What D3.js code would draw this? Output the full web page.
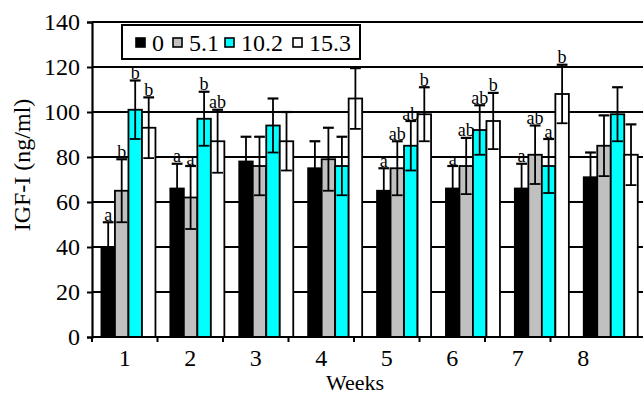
<!DOCTYPE html>
<html>
<head>
<meta charset="utf-8">
<script src="https://cdn.jsdelivr.net/npm/d3@7"></script>
<style>
  html, body { margin: 0; padding: 0; background: #fff; }
  svg { display: block; }
  text { font-family: "Liberation Serif", "Times New Roman", serif; fill: #000; }
</style>
</head>
<body>
<svg id="chart" width="643" height="394"></svg>
<script>
// ---- data ----
const weeks = ["1", "2", "3", "4", "5", "6", "7", "8"];
const doses = ["0", "5.1", "10.2", "15.3"];
const yTicks = [0, 20, 40, 60, 80, 100, 120, 140];

const dose0   = [40, 66, 78, 75, 65, 66, 66, 71];
const dose5_1 = [65, 62, 76, 79, 75, 76, 81, 85];
const dose10_2 = [101, 97, 94, 76, 85, 92, 76, 99];
const dose15_3 = [93, 87, 87, 106, 99, 96, 108, 81];

const se0   = [11, 11, 11, 12, 10, 10, 11, 11];
const se5_1 = [14, 14, 13, 14, 12, 12.5, 13, 13.5];
const se10_2 = [13, 12, 12, 13, 11, 11, 12, 12];
const se15_3 = [13.5, 14, 13, 13.5, 12, 12.5, 13, 13.5];

const letters0   = ["a", "a", "", "", "a", "a", "a", ""];
const letters5_1 = ["b", "a", "", "", "ab", "ab", "ab", ""];
const letters10_2 = ["b", "b", "", "", "ab", "ab", "a", ""];
const letters15_3 = ["b", "ab", "", "", "b", "b", "b", ""];

const colors = ["#000000", "#c0c0c0", "#00ffff", "#ffffff"];

const seriesValues = [dose0, dose5_1, dose10_2, dose15_3];
const seriesSE = [se0, se5_1, se10_2, se15_3];
const seriesLetters = [letters0, letters5_1, letters10_2, letters15_3];

const rows = [];
weeks.forEach((w, i) => {
  doses.forEach((d, j) => {
    rows.push({ week: w, dose: d, v: seriesValues[j][i], se: seriesSE[j][i], letter: seriesLetters[j][i], color: colors[j] });
  });
});

// ---- layout ----
const svg = d3.select("#chart");
const mLeft = 92, mTop = 22, mBottom = 337, mRight = 643;

const y = d3.scaleLinear().domain([0, 140]).range([mBottom, mTop]);

// bars (scanned original: bar groups spaced slightly wider than the axis labels)
const xBars = d3.scaleBand().domain(weeks).range([94, 94 + 8 * 68.9]).paddingInner(0.216).paddingOuter(0.108);
const xInner = d3.scaleBand().domain(doses).range([0, xBars.bandwidth()]);
const xAxisScale = d3.scaleBand().domain(weeks).range([mLeft, mLeft + 8 * 65.5]);

// gridlines
svg.append("g").selectAll("line").data(yTicks.filter(t => t > 0)).join("line")
  .attr("x1", mLeft).attr("x2", mRight)
  .attr("y1", d => y(d)).attr("y2", d => y(d))
  .attr("stroke", "#000").attr("stroke-width", 2);

// bars
const bw = xInner.bandwidth();
const barG = svg.append("g");
barG.selectAll("rect").data(rows).join("rect")
  .attr("x", d => xBars(d.week) + xInner(d.dose))
  .attr("y", d => y(d.v))
  .attr("width", bw)
  .attr("height", d => y(0) - y(d.v))
  .attr("fill", d => d.color)
  .attr("stroke", "#000").attr("stroke-width", 1.8);

// error bars
const capW = bw * 0.8;
const eg = svg.append("g").attr("stroke", "#000").attr("stroke-width", 1.8);
rows.forEach(d => {
  const cx = xBars(d.week) + xInner(d.dose) + bw / 2;
  const yHi = y(d.v + d.se), yLo = y(d.v - d.se);
  eg.append("line").attr("x1", cx).attr("x2", cx).attr("y1", yHi).attr("y2", yLo);
  eg.append("line").attr("x1", cx - capW / 2).attr("x2", cx + capW / 2).attr("y1", yHi).attr("y2", yHi).attr("stroke-width", 2.2);
  eg.append("line").attr("x1", cx - capW / 2).attr("x2", cx + capW / 2).attr("y1", yLo).attr("y2", yLo);
});

// significance letters
svg.append("g").selectAll("text").data(rows.filter(d => d.letter)).join("text")
  .attr("x", d => xBars(d.week) + xInner(d.dose) + bw / 2)
  .attr("y", d => y(d.v + d.se) - 1.5)
  .attr("text-anchor", "middle")
  .attr("font-size", 18)
  .text(d => d.letter);

// y axis
const yAxis = svg.append("g").attr("transform", `translate(${mLeft},0)`)
  .call(d3.axisLeft(y).tickValues(yTicks).tickSize(5).tickPadding(7));
yAxis.selectAll("text").attr("font-size", 24);
yAxis.selectAll("line").attr("stroke", "#000").attr("stroke-width", 2);
yAxis.select(".domain").attr("stroke", "#000").attr("stroke-width", 2.2);

// x axis
const xAxis = svg.append("g").attr("transform", `translate(0,${mBottom})`)
  .call(d3.axisBottom(xAxisScale).tickSize(0).tickPadding(12));
xAxis.select(".domain").remove();
xAxis.selectAll("text").attr("font-size", 24);
svg.append("line").attr("x1", mLeft).attr("x2", mRight).attr("y1", mBottom).attr("y2", mBottom)
  .attr("stroke", "#000").attr("stroke-width", 2.2);
svg.append("g").selectAll("line").data(weeks).join("line")
  .attr("x1", d => xAxisScale(d)).attr("x2", d => xAxisScale(d))
  .attr("y1", mBottom).attr("y2", mBottom + 5)
  .attr("stroke", "#000").attr("stroke-width", 2);

// axis titles
svg.append("text").attr("x", 355).attr("y", 390).attr("text-anchor", "middle")
  .attr("font-size", 22).text("Weeks");
svg.append("text").attr("transform", "translate(30,165) rotate(-90)").attr("text-anchor", "middle")
  .attr("font-size", 24).text("IGF-I (ng/ml)");

// legend
const lg = svg.append("g");
lg.append("rect").attr("x", 122).attr("y", 25).attr("width", 238).attr("height", 34)
  .attr("fill", "#fff").attr("stroke", "#000").attr("stroke-width", 2);
const legendX = [136, 173, 225, 293];
doses.forEach((d, j) => {
  lg.append("rect").attr("x", legendX[j]).attr("y", 38).attr("width", 9).attr("height", 9)
    .attr("fill", colors[j]).attr("stroke", "#000").attr("stroke-width", 1.6);
  lg.append("text").attr("x", legendX[j] + 16).attr("y", 51).attr("font-size", 24).text(d);
});
</script>
</body>
</html>
